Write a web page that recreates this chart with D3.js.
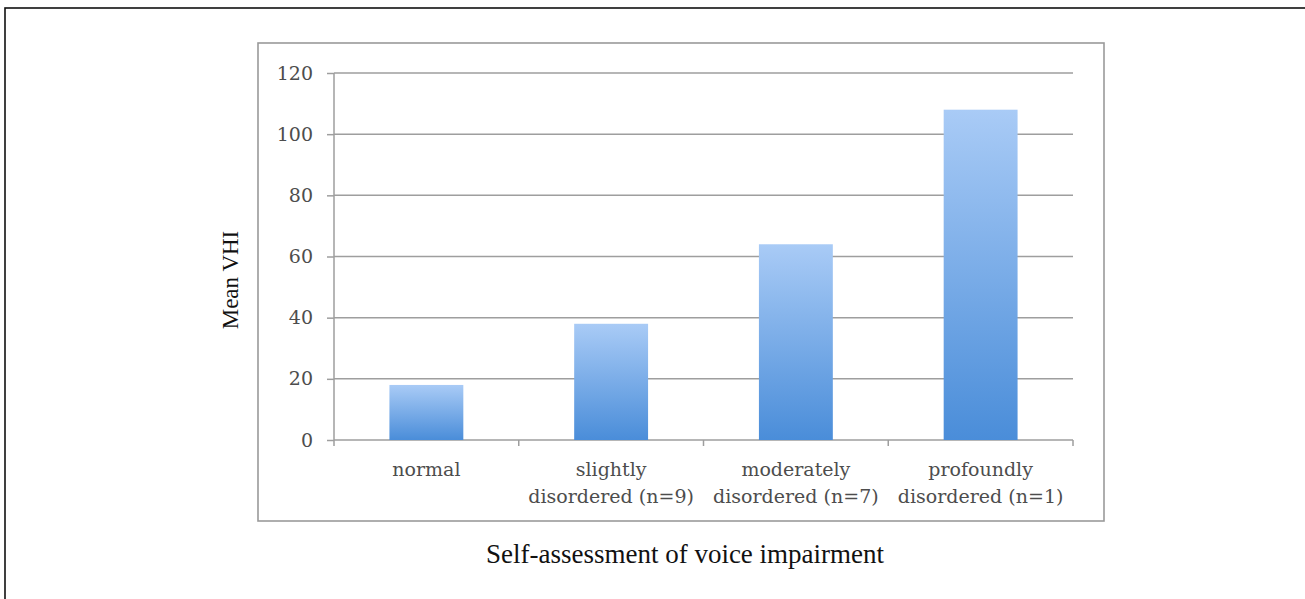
<!DOCTYPE html>
<html>
<head>
<meta charset="utf-8">
<script src="https://cdn.jsdelivr.net/npm/d3@7"></script>
<style>
  html, body { margin: 0; padding: 0; background: #fff; }
  svg { display: block; }
</style>
</head>
<body>
<div id="chart"></div>
<script>
// Mean VHI by self-assessed voice impairment
const categories = ['normal', 'slightly', 'moderately', 'profoundly'];
const labelLines = [
  ['normal'],
  ['slightly', 'disordered (n=9)'],
  ['moderately', 'disordered (n=7)'],
  ['profoundly', 'disordered (n=1)']
];
const meanVHI = [18, 38, 64, 108];
const yTicks = [0, 20, 40, 60, 80, 100, 120];

const width = 1305;
const height = 599;
const plot = { left: 334, right: 1073, top: 73, bottom: 440 };

const svg = d3.select('#chart').append('svg')
  .attr('width', width)
  .attr('height', height);

// gradient for bars
const grad = svg.append('defs').append('linearGradient')
  .attr('id', 'barGrad')
  .attr('x1', '0%').attr('y1', '0%')
  .attr('x2', '0%').attr('y2', '100%');
grad.append('stop').attr('offset', '0%').attr('stop-color', '#a9cbf6');
grad.append('stop').attr('offset', '100%').attr('stop-color', '#4a8dd9');

// outer frame
svg.append('rect')
  .attr('x', 5).attr('y', 8)
  .attr('width', 1310).attr('height', 600)
  .attr('fill', 'none')
  .attr('stroke', '#111')
  .attr('stroke-width', 1.6);

// chart box
svg.append('rect')
  .attr('x', 258).attr('y', 43)
  .attr('width', 846).attr('height', 478)
  .attr('fill', '#fff')
  .attr('stroke', '#9a9a9a')
  .attr('stroke-width', 1.6);

const x = d3.scaleBand()
  .domain(categories)
  .range([plot.left, plot.right])
  .paddingInner(0.6)
  .paddingOuter(0.3);

const y = d3.scaleLinear()
  .domain([0, 120])
  .range([plot.bottom, plot.top]);

const gridColor = '#9e9e9e';
const tickFont = '"DejaVu Serif", serif';
const textGray = '#4d4d4d';

// gridlines + y ticks
const yAxis = svg.append('g')
  .attr('transform', `translate(${plot.left},0)`)
  .call(d3.axisLeft(y).tickValues(yTicks).tickSize(7).tickPadding(14));
yAxis.select('.domain').remove();
yAxis.selectAll('.tick line').attr('stroke', gridColor).attr('stroke-width', 1.5);
yAxis.selectAll('.tick text')
  .attr('fill', textGray)
  .style('font-family', tickFont)
  .style('font-size', '19px');

svg.append('g')
  .selectAll('line')
  .data(yTicks)
  .join('line')
  .attr('x1', plot.left).attr('x2', plot.right)
  .attr('y1', d => y(d)).attr('y2', d => y(d))
  .attr('stroke', gridColor)
  .attr('stroke-width', 1.5);

// bars
svg.append('g')
  .selectAll('rect')
  .data(categories)
  .join('rect')
  .attr('x', d => x(d))
  .attr('y', (d, i) => y(meanVHI[i]))
  .attr('width', x.bandwidth())
  .attr('height', (d, i) => y(0) - y(meanVHI[i]))
  .attr('fill', 'url(#barGrad)');

// y axis line
svg.append('line')
  .attr('x1', plot.left).attr('x2', plot.left)
  .attr('y1', plot.top).attr('y2', plot.bottom + 6)
  .attr('stroke', gridColor)
  .attr('stroke-width', 1.5);

// x axis boundary ticks
const step = x.step();
const boundaries = d3.range(categories.length + 1).map(i => plot.left + i * step);
svg.append('g')
  .selectAll('line')
  .data(boundaries.slice(1))
  .join('line')
  .attr('x1', d => d).attr('x2', d => d)
  .attr('y1', plot.bottom).attr('y2', plot.bottom + 6)
  .attr('stroke', gridColor)
  .attr('stroke-width', 1.5);

// category labels
const catLabels = svg.append('g')
  .selectAll('text')
  .data(categories)
  .join('text')
  .attr('x', d => x(d) + x.bandwidth() / 2)
  .attr('y', 476)
  .attr('text-anchor', 'middle')
  .attr('fill', textGray)
  .style('font-family', tickFont)
  .style('font-size', '19px');
catLabels.selectAll('tspan')
  .data((d, i) => labelLines[i])
  .join('tspan')
  .attr('x', function () { return this.parentNode.getAttribute('x'); })
  .attr('dy', (d, i) => i === 0 ? 0 : 27)
  .text(d => d);

// axis titles
svg.append('text')
  .attr('transform', 'translate(238,280) rotate(-90)')
  .attr('text-anchor', 'middle')
  .attr('fill', '#111')
  .style('font-family', '"Liberation Serif", serif')
  .style('font-size', '23px')
  .text('Mean VHI');

svg.append('text')
  .attr('x', 685)
  .attr('y', 563)
  .attr('text-anchor', 'middle')
  .attr('fill', '#111')
  .style('font-family', '"Liberation Serif", serif')
  .style('font-size', '27px')
  .text('Self-assessment of voice impairment');
</script>
</body>
</html>
